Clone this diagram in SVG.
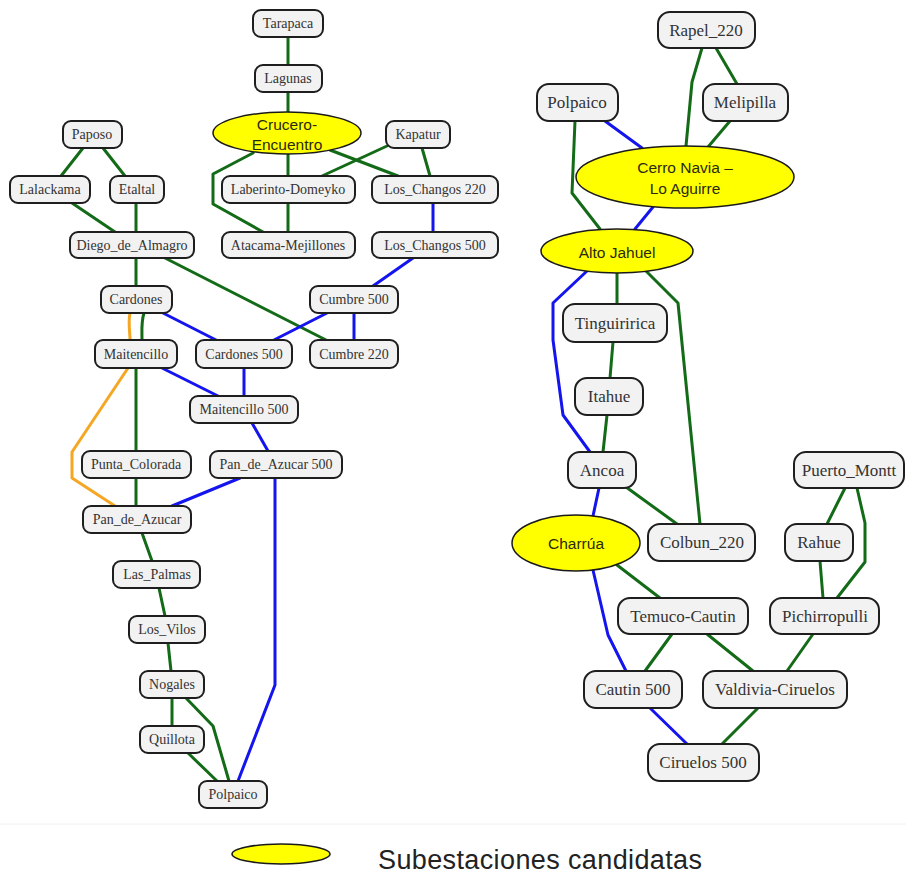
<svg xmlns="http://www.w3.org/2000/svg" width="906" height="875" viewBox="0 0 906 875">
  <style>
    .bg { fill: #ffffff; }
    .e { fill: none; stroke-width: 3; stroke-linejoin: round; stroke-linecap: round; }
    .g { stroke: #136b17; }
    .b { stroke: #1414ee; }
    .o { stroke: #f5a623; }
    .n rect { fill: #f2f2f2; stroke: #1e1e1e; stroke-width: 2; }
    .s text { font-family: "Liberation Serif", "Times New Roman", serif; font-size: 14px; fill: #333333; text-anchor: middle; dominant-baseline: central; }
    .l text { font-family: "Liberation Serif", "Times New Roman", serif; font-size: 17px; fill: #333333; text-anchor: middle; dominant-baseline: central; }
    .c ellipse { fill: #ffff00; stroke: #1a1a1a; stroke-width: 1.5; }
    .c text { font-family: "Liberation Sans", Arial, sans-serif; font-size: 15.5px; fill: #2a2a10; text-anchor: middle; dominant-baseline: central; }
    .legend text { font-family: "Liberation Sans", Arial, sans-serif; font-size: 27px; fill: #222222; }
  </style>

  <rect class="bg" x="0" y="0" width="906" height="875"/>

  <g id="connectors">
    <!-- northern system -->
    <path class="e g" d="M288,37 L288,65"/>
    <path class="e g" d="M288,92 L288,112"/>
    <path class="e g" d="M288,154 L288,176"/>
    <path class="e g" d="M253,153 L213,174 L213,204 L263,232"/>
    <path class="e g" d="M330,150 L398,176"/>
    <path class="e g" d="M387,146 L322,176"/>
    <path class="e g" d="M422,148 L430,176"/>
    <path class="e g" d="M288,203 L288,232"/>
    <path class="e b" d="M433,203 L433,232"/>
    <path class="e g" d="M83,148 L61,176"/>
    <path class="e g" d="M103,148 L125,176"/>
    <path class="e g" d="M72,203 L115,232"/>
    <path class="e g" d="M136,203 L136,232"/>
    <path class="e g" d="M136,258 L136,286"/>
    <path class="e g" d="M165,258 L328,341"/>
    <path class="e b" d="M413,258 L373,286"/>
    <path class="e o" d="M130,313 C128,322 130,332 130,340"/>
    <path class="e g" d="M144,313 C141,322 142,332 142,340"/>
    <path class="e b" d="M163,313 L218,341"/>
    <path class="e b" d="M327,313 L272,341"/>
    <path class="e b" d="M354,313 L354,340"/>
    <path class="e b" d="M162,368 L218,396"/>
    <path class="e b" d="M244,368 L244,396"/>
    <path class="e g" d="M136,368 L136,451"/>
    <path class="e o" d="M128,368 L72,452 L72,478 L115,506"/>
    <path class="e b" d="M252,423 L268,451"/>
    <path class="e g" d="M136,478 L136,506"/>
    <path class="e b" d="M240,478 L172,506"/>
    <path class="e b" d="M275,478 L275,685 L238,781"/>
    <path class="e g" d="M142,533 L152,561"/>
    <path class="e g" d="M159,588 L165,616"/>
    <path class="e g" d="M168,643 L171,671"/>
    <path class="e g" d="M172,698 L172,726"/>
    <path class="e g" d="M186,698 L213,726 L229,781"/>
    <path class="e g" d="M188,753 L217,781"/>

    <!-- central-southern system -->
    <path class="e g" d="M702,48 L692,82 L686,146"/>
    <path class="e g" d="M716,48 L737,84"/>
    <path class="e g" d="M730,121 L708,147"/>
    <path class="e b" d="M605,121 L642,148"/>
    <path class="e g" d="M575,121 L572,193 L600,229"/>
    <path class="e b" d="M653,207 L635,229"/>
    <path class="e b" d="M587,271 L553,303 L553,340 L563,415 L590,452"/>
    <path class="e g" d="M617,273 L617,304"/>
    <path class="e g" d="M643,268 L678,303 L700,524"/>
    <path class="e g" d="M613,342 L610,378"/>
    <path class="e g" d="M607,415 L603,452"/>
    <path class="e g" d="M626,487 L677,524"/>
    <path class="e b" d="M599,488 L593,516"/>
    <path class="e g" d="M845,488 L827,524"/>
    <path class="e g" d="M857,488 L865,523 L865,562 L837,598"/>
    <path class="e g" d="M820,561 L823,598"/>
    <path class="e g" d="M617,565 L660,598"/>
    <path class="e b" d="M593,570 L608,635 L626,671"/>
    <path class="e g" d="M672,634 L645,671"/>
    <path class="e g" d="M707,634 L753,671"/>
    <path class="e g" d="M813,634 L787,671"/>
    <path class="e b" d="M650,708 L687,744"/>
    <path class="e g" d="M758,708 L722,744"/>
  </g>

  <!-- northern system substations -->
  <g class="n s">
    <g id="tarapaca"><rect x="253" y="10" width="70" height="27" rx="8"/><text x="288" y="23.5">Tarapaca</text></g>
    <g id="lagunas"><rect x="255" y="65" width="67" height="27" rx="8"/><text x="288" y="78.5">Lagunas</text></g>
    <g id="paposo"><rect x="63" y="121" width="59" height="27" rx="8"/><text x="92" y="134.5">Paposo</text></g>
    <g id="kapatur"><rect x="386" y="121" width="64" height="27" rx="8"/><text x="418" y="134.5">Kapatur</text></g>
    <g id="lalackama"><rect x="10" y="176" width="80" height="27" rx="8"/><text x="50" y="189.5">Lalackama</text></g>
    <g id="etaltal"><rect x="110" y="176" width="54" height="27" rx="8"/><text x="137" y="189.5">Etaltal</text></g>
    <g id="laberinto-domeyko"><rect x="222" y="176" width="133" height="27" rx="8"/><text x="288" y="189.5">Laberinto-Domeyko</text></g>
    <g id="los-changos-220"><rect x="372" y="176" width="126" height="27" rx="8"/><text x="435" y="189.5">Los_Changos 220</text></g>
    <g id="diego-de-almagro"><rect x="70" y="232" width="124" height="26" rx="8"/><text x="132" y="245.5">Diego_de_Almagro</text></g>
    <g id="atacama-mejillones"><rect x="222" y="232" width="133" height="26" rx="8"/><text x="288" y="245.5">Atacama-Mejillones</text></g>
    <g id="los-changos-500"><rect x="372" y="232" width="126" height="26" rx="8"/><text x="435" y="245.5">Los_Changos 500</text></g>
    <g id="cardones"><rect x="101" y="286" width="71" height="27" rx="8"/><text x="136" y="299.5">Cardones</text></g>
    <g id="cumbre-500"><rect x="310" y="286" width="88" height="27" rx="8"/><text x="354" y="299.5">Cumbre 500</text></g>
    <g id="maitencillo"><rect x="95" y="340" width="82" height="28" rx="8"/><text x="136" y="354.5">Maitencillo</text></g>
    <g id="cardones-500"><rect x="196" y="340" width="96" height="28" rx="8"/><text x="244" y="354.5">Cardones 500</text></g>
    <g id="cumbre-220"><rect x="310" y="340" width="88" height="28" rx="8"/><text x="354" y="354.5">Cumbre 220</text></g>
    <g id="maitencillo-500"><rect x="190" y="396" width="108" height="27" rx="8"/><text x="244" y="409.5">Maitencillo 500</text></g>
    <g id="punta-colorada"><rect x="82" y="451" width="109" height="27" rx="8"/><text x="136" y="464.5">Punta_Colorada</text></g>
    <g id="pan-de-azucar-500"><rect x="210" y="451" width="132" height="27" rx="8"/><text x="276" y="464.5">Pan_de_Azucar 500</text></g>
    <g id="pan-de-azucar"><rect x="83" y="506" width="108" height="27" rx="8"/><text x="137" y="519.5">Pan_de_Azucar</text></g>
    <g id="las-palmas"><rect x="113" y="561" width="87" height="27" rx="8"/><text x="157" y="574.5">Las_Palmas</text></g>
    <g id="los-vilos"><rect x="129" y="616" width="76" height="27" rx="8"/><text x="167" y="629.5">Los_Vilos</text></g>
    <g id="nogales"><rect x="140" y="671" width="64" height="27" rx="8"/><text x="172" y="684.5">Nogales</text></g>
    <g id="quillota"><rect x="140" y="726" width="64" height="27" rx="8"/><text x="172" y="739.5">Quillota</text></g>
    <g id="polpaico-north"><rect x="199" y="781" width="68" height="27" rx="8"/><text x="233" y="794.5">Polpaico</text></g>
  </g>

  <!-- central-southern system substations -->
  <g class="n l">
    <g id="rapel-220"><rect x="658" y="12" width="97" height="36" rx="12"/><text x="706" y="30.5">Rapel_220</text></g>
    <g id="polpaico-south"><rect x="537" y="84" width="81" height="37" rx="12"/><text x="577" y="102.5">Polpaico</text></g>
    <g id="melipilla"><rect x="703" y="84" width="85" height="37" rx="12"/><text x="745" y="102.5">Melipilla</text></g>
    <g id="tinguiririca"><rect x="563" y="304" width="104" height="38" rx="12"/><text x="615" y="323.5">Tinguiririca</text></g>
    <g id="itahue"><rect x="575" y="378" width="68" height="37" rx="12"/><text x="609" y="396.5">Itahue</text></g>
    <g id="ancoa"><rect x="568" y="452" width="68" height="36" rx="12"/><text x="602" y="470.5">Ancoa</text></g>
    <g id="puerto-montt"><rect x="794" y="452" width="110" height="36" rx="12"/><text x="849" y="470.5">Puerto_Montt</text></g>
    <g id="colbun-220"><rect x="648" y="524" width="107" height="37" rx="12"/><text x="702" y="542.5">Colbun_220</text></g>
    <g id="rahue"><rect x="785" y="524" width="68" height="37" rx="12"/><text x="819" y="542.5">Rahue</text></g>
    <g id="temuco-cautin"><rect x="618" y="598" width="130" height="36" rx="12"/><text x="683" y="616.5">Temuco-Cautin</text></g>
    <g id="pichirropulli"><rect x="770" y="598" width="109" height="36" rx="12"/><text x="825" y="616.5">Pichirropulli</text></g>
    <g id="cautin-500"><rect x="584" y="671" width="98" height="37" rx="12"/><text x="633" y="689.5">Cautin 500</text></g>
    <g id="valdivia-ciruelos"><rect x="703" y="671" width="144" height="37" rx="12"/><text x="775" y="689.5">Valdivia-Ciruelos</text></g>
    <g id="ciruelos-500"><rect x="648" y="744" width="111" height="37" rx="12"/><text x="703" y="762.5">Ciruelos 500</text></g>
  </g>

  <!-- candidate substations -->
  <g class="c">
    <g id="crucero-encuentro">
      <ellipse cx="287" cy="133" rx="74" ry="21"/>
      <text x="287" y="124">Crucero-</text>
      <text x="287" y="144">Encuentro</text>
    </g>
    <g id="cerro-navia-lo-aguirre">
      <ellipse cx="685" cy="177" rx="109" ry="31"/>
      <text x="685" y="167">Cerro Navia –</text>
      <text x="685" y="188">Lo Aguirre</text>
    </g>
    <g id="alto-jahuel">
      <ellipse cx="617" cy="251" rx="76" ry="22"/>
      <text x="617" y="252">Alto Jahuel</text>
    </g>
    <g id="charrua">
      <ellipse cx="576" cy="543" rx="64" ry="28"/>
      <text x="576" y="543">Charrúa</text>
    </g>
  </g>

  <!-- legend -->
  <g id="legend" class="c legend">
    <line x1="0" y1="824" x2="906" y2="824" stroke="#f0f0f0" stroke-width="1"/>
    <ellipse cx="281" cy="854" rx="49" ry="10"/>
    <text x="378" y="869" textLength="324" lengthAdjust="spacing" style="text-anchor:start;dominant-baseline:auto;font-size:27px;fill:#222222">Subestaciones candidatas</text>
  </g>
</svg>
